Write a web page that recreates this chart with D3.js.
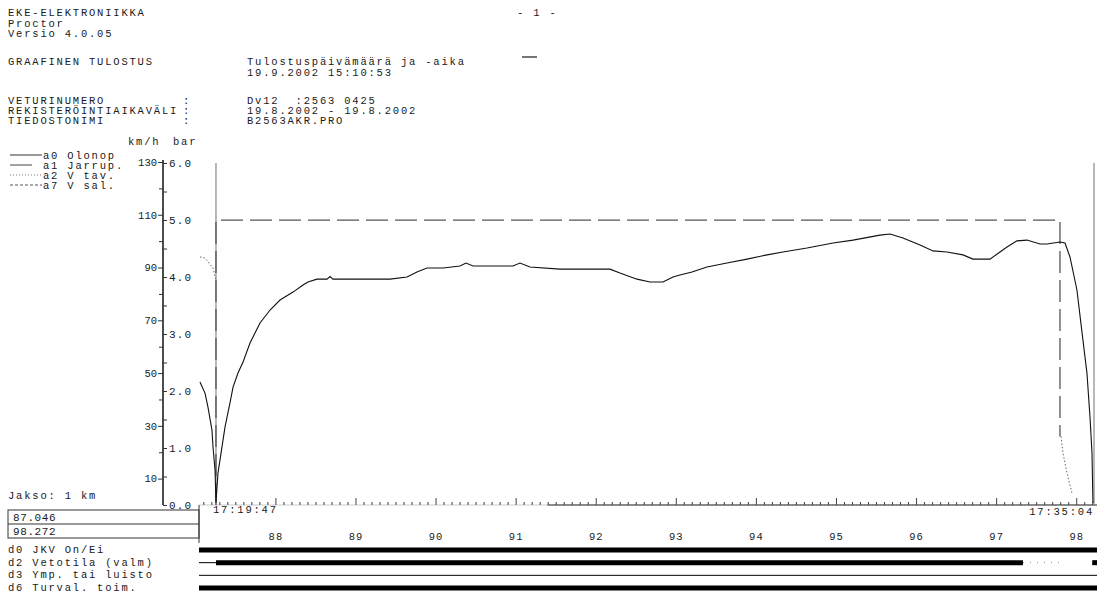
<!DOCTYPE html>
<html>
<head>
<meta charset="utf-8">
<script src="https://cdn.jsdelivr.net/npm/d3@7"></script>
<style>
body { margin: 0; background: #fff; }
svg { display: block; font-family: "Liberation Mono", "DejaVu Sans Mono", monospace; }
text { white-space: pre; }
</style>
</head>
<body>
<svg id="svg1" width="1097" height="593"></svg>
<script>
// otsikkotiedot
var otsikko = ["EKE-ELEKTRONIIKKA", "Proctor", "Versio 4.0.05"];
var tiedotNimet = ["VETURINUMERO", "REKISTERÖINTIAIKAVÄLI", "TIEDOSTONIMI"];
var tiedotArvot = ["Dv12  :2563 0425", "19.8.2002 - 19.8.2002", "B2563AKR.PRO"];
var selitteet = ["a0 Olonop", "a1 Jarrup.", "a2 V tav.", "a7 V sal."];
var digiNimet = ["d0 JKV On/Ei", "d2 Vetotila (valm)", "d3 Ymp. tai luisto", "d6 Turval. toim."];

// akselit
var kmAlku = 87.046, kmLoppu = 98.272;
var kmMerkit = [88, 89, 90, 91, 92, 93, 94, 95, 96, 97, 98];
var kmhMerkit = [10, 30, 50, 70, 90, 110, 130];
var kmhValit = [20, 40, 60, 80, 100, 120];
var barMerkit = [0, 1, 2, 3, 4, 5, 6];
var barValit = [0.5, 1.5, 2.5, 3.5, 4.5, 5.5];
var ajat = ["17:19:47", "17:35:04"];

// a0 nopeus [km, km/h]
var olonop = [
  [87.058, 46.6], [87.121, 42.4], [87.158, 37.1], [87.208, 28.4], [87.221, 22.0],
  [87.246, 13.3], [87.258, 1.0], [87.283, 12.1], [87.333, 22.0], [87.371, 29.6],
  [87.433, 38.7], [87.471, 44.7], [87.533, 50.0], [87.596, 54.2], [87.683, 61.4],
  [87.808, 69.0], [87.933, 73.9], [88.058, 77.7], [88.220, 80.7], [88.345, 83.4],
  [88.407, 84.5], [88.519, 85.6], [88.644, 85.6], [88.682, 86.6], [88.719, 85.6],
  [89.431, 85.6], [89.643, 86.4], [89.768, 88.3], [89.893, 89.8], [90.093, 89.8],
  [90.305, 90.6], [90.380, 91.7], [90.468, 90.6], [90.967, 90.6], [91.054, 91.7],
  [91.179, 90.2], [91.554, 89.4], [92.178, 89.4], [92.303, 87.9], [92.515, 85.6],
  [92.678, 84.5], [92.840, 84.5], [92.965, 86.4], [93.052, 87.2], [93.202, 88.3],
  [93.389, 90.2], [93.639, 91.7], [93.889, 93.2], [94.139, 94.8], [94.338, 95.9],
  [94.638, 97.4], [94.963, 99.3], [95.213, 100.4], [95.550, 102.3], [95.675, 102.7],
  [95.837, 101.2], [96.049, 98.5], [96.212, 96.3], [96.386, 95.9], [96.586, 94.8],
  [96.711, 93.2], [96.923, 93.2], [97.048, 95.9], [97.136, 97.8], [97.260, 100.1],
  [97.385, 100.4], [97.548, 98.9], [97.635, 98.9], [97.797, 99.7], [97.860, 99.3],
  [97.922, 94.0], [98.009, 81.5], [98.084, 62.5], [98.134, 50.0], [98.172, 33.4],
  [98.197, 19.7], [98.209, 0.8]
];
// a1 jarruputki [km, bar]
var jarrup = [[87.258, 6.0], [87.258, 0.0], null, [98.222, 6.0], [98.222, 0.0]];
// a2 tavoitenopeus [km, km/h]
var vTav = [[87.058, 94.0], [87.121, 93.6], [87.221, 89.8], [87.258, 85.3], null,
  [97.810, 26.0], [97.835, 19.7], [97.885, 12.1], [97.947, 4.5]];
// a7 sallittu nopeus [km, km/h]
var vSal = [[87.258, 0], [87.258, 108], [97.797, 108], [97.797, 26]];

// digitaalikanavat [alku km, loppu km, tila]
var kanavaD0 = [[87.046, 98.272, 1]];
var kanavaD2 = [[87.046, 87.258, 0], [87.258, 97.335, 1], [97.335, 97.84, 0.5], [98.20, 98.272, 1]];
var kanavaD3 = [[87.046, 98.272, 0]];
var kanavaD6 = [[87.046, 98.272, 1]];

var svg = d3.select("#svg1");
var muste = "#1a1a1a";

var x = d3.scaleLinear().domain([kmAlku, kmLoppu]).range([199, 1098]);
var yKmh = d3.scaleLinear().domain([0, 130]).range([505, 162]);
var yBar = d3.scaleLinear().domain([0, 6]).range([505, 163]);

function teksti(t, tx, ty, koko, vali) {
    return svg.append("text").attr("x", tx).attr("y", ty)
        .style("font-size", (koko || 10.5) + "px")
        .style("letter-spacing", (vali === undefined ? 1.8 : vali) + "px")
        .style("fill", muste).text(t);
}

// otsikot
otsikko.forEach(function(t, i) { teksti(t, 8, 16 + i * 10.5); });
teksti("- 1 -", 517, 16);
svg.append("line").attr("x1", 522).attr("x2", 537).attr("y1", 57).attr("y2", 57)
    .style("stroke", muste).style("stroke-width", 1.2);
teksti("GRAAFINEN TULOSTUS", 8, 65);
teksti("Tulostuspäivämäärä ja -aika", 247, 65);
teksti("19.9.2002 15:10:53", 247, 76);
tiedotNimet.forEach(function(t, i) {
    teksti(t, 8, 104 + i * 10);
    teksti(":", 183, 104 + i * 10);
    teksti(tiedotArvot[i], 247, 104 + i * 10);
});
teksti("km/h", 128, 145);
teksti("bar", 173, 145);

// selitteet
var tyylit = [
    {viiva: null, pituus: 32, vari: "#333"},
    {viiva: null, pituus: 22, vari: "#444"},
    {viiva: "1,2", pituus: 32, vari: "#777"},
    {viiva: "3,2", pituus: 32, vari: "#555"}
];
selitteet.forEach(function(t, i) {
    var yy = 155 + i * 10;
    svg.append("line").attr("x1", 10).attr("x2", 10 + tyylit[i].pituus)
        .attr("y1", yy).attr("y2", yy)
        .style("stroke", tyylit[i].vari).style("stroke-width", 1)
        .style("stroke-dasharray", tyylit[i].viiva);
    teksti(t, 43, yy + 4);
});

// pystyakseli
svg.append("line").attr("x1", 163).attr("x2", 163).attr("y1", 160).attr("y2", 505)
    .style("stroke", "#111").style("stroke-width", 1.5);

var akseliVasen = svg.append("g").attr("transform", "translate(163,0)")
    .call(d3.axisLeft(yKmh).tickValues(kmhMerkit).tickSize(5).tickPadding(1).tickFormat(d3.format("d")));
svg.append("g").attr("transform", "translate(163,0)")
    .call(d3.axisLeft(yKmh).tickValues(kmhValit).tickSize(4).tickFormat(""));
var akseliOikea = svg.append("g").attr("transform", "translate(163,0)")
    .call(d3.axisRight(yBar).tickValues(barMerkit).tickSize(4).tickPadding(2).tickFormat(d3.format(".1f")));
svg.append("g").attr("transform", "translate(163,0)")
    .call(d3.axisRight(yBar).tickValues(barValit).tickSize(4).tickFormat(""));
svg.selectAll(".domain").remove();
svg.selectAll(".tick line").style("stroke", "#333");
svg.selectAll(".tick text").style("font-family", "Liberation Mono, monospace").style("fill", muste);
akseliVasen.selectAll("text").style("font-size", "10.5px");
akseliOikea.selectAll("text").style("font-size", "11px").style("letter-spacing", "1.2px");

// aika-akseli (jakso 1 km)
var vahaiset = d3.range(871, 983).map(function(d) { return d / 10; })
    .filter(function(d) { return d % 1 !== 0; });
svg.append("line").attr("x1", x(kmAlku)).attr("x2", x(kmLoppu)).attr("y1", 505).attr("y2", 505)
    .style("stroke", "#bbb").style("stroke-width", 0.8);
svg.append("line").attr("x1", x(91.4)).attr("x2", x(kmLoppu)).attr("y1", 505).attr("y2", 505)
    .style("stroke", "#333").style("stroke-width", 1);
var aikaAks = svg.append("g").attr("transform", "translate(0,505)");
aikaAks.append("g").call(d3.axisTop(x).tickValues(vahaiset).tickSize(3).tickFormat(""));
aikaAks.append("g").call(d3.axisTop(x).tickValues(kmMerkit).tickSize(7).tickFormat(""));
aikaAks.selectAll(".domain").remove();
aikaAks.selectAll(".tick line").style("stroke", "#444");

teksti(ajat[0], 213, 513);
teksti(ajat[1], 1094, 515).attr("text-anchor", "end");

var kmAks = svg.append("g").attr("transform", "translate(0,533)")
    .call(d3.axisBottom(x).tickValues(kmMerkit).tickSize(0).tickPadding(0).tickFormat(d3.format("d")));
kmAks.select(".domain").remove();
kmAks.selectAll("text").style("font-family", "Liberation Mono, monospace")
    .style("font-size", "10.5px").style("letter-spacing", "1px").style("fill", muste);

// vasen laatikko
teksti("Jakso: 1 km", 8, 499);
svg.append("rect").attr("x", 8).attr("y", 510).attr("width", 191).attr("height", 28)
    .style("fill", "none").style("stroke", "#333").style("stroke-width", 1);
svg.append("line").attr("x1", 8).attr("x2", 199).attr("y1", 524).attr("y2", 524)
    .style("stroke", "#333");
svg.append("line").attr("x1", 199).attr("x2", 199).attr("y1", 505).attr("y2", 543)
    .style("stroke", "#333");
teksti(kmAlku.toFixed(3), 13, 521, 11, 0.6);
teksti(kmLoppu.toFixed(3), 13, 535, 11, 0.6);

// käyrät
var viivaKmh = d3.line().defined(function(d) { return d; })
    .x(function(d) { return x(d[0]); }).y(function(d) { return yKmh(d[1]); });
var viivaBar = d3.line().defined(function(d) { return d; })
    .x(function(d) { return x(d[0]); }).y(function(d) { return yBar(d[1]); });

svg.append("path").datum(jarrup).attr("d", viivaBar)
    .style("fill", "none").style("stroke", "#8a8a8a").style("stroke-width", 1.2);
svg.append("path").datum(vSal).attr("d", viivaKmh)
    .style("fill", "none").style("stroke", "#555").style("stroke-width", 1.3)
    .style("stroke-dasharray", "22,7");
svg.append("path").datum(vTav).attr("d", viivaKmh)
    .style("fill", "none").style("stroke", "#666").style("stroke-width", 1)
    .style("stroke-dasharray", "1.5,2");
svg.append("path").datum(olonop).attr("d", viivaKmh)
    .style("fill", "none").style("stroke", "#111").style("stroke-width", 1.1);

// digitaalikanavat
var yDigi = d3.scalePoint().domain(digiNimet).range([550, 588]);
var kanavat = [kanavaD0, kanavaD2, kanavaD3, kanavaD6];
digiNimet.forEach(function(nimi, i) {
    teksti(nimi, 8, yDigi(nimi) + 3);
    svg.append("g").selectAll("line").data(kanavat[i]).enter().append("line")
        .attr("x1", function(d) { return x(d[0]); })
        .attr("x2", function(d) { return x(d[1]); })
        .attr("y1", yDigi(nimi)).attr("y2", yDigi(nimi))
        .style("stroke", function(d) { return d[2] === 0.5 ? "#888" : "#000"; })
        .style("stroke-width", function(d) { return d[2] === 1 ? 5 : 1; })
        .style("stroke-dasharray", function(d) { return d[2] === 0.5 ? "1,6" : null; });
});
</script>
</body>
</html>
